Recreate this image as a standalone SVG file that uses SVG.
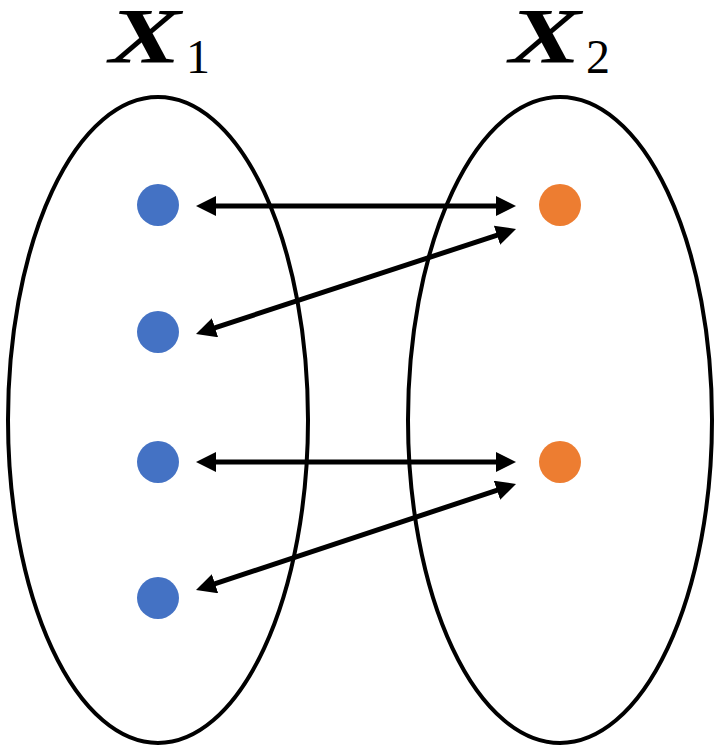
<svg xmlns="http://www.w3.org/2000/svg" width="718" height="746" viewBox="0 0 718 746">
<defs>
<marker id="ah" viewBox="0 0 20 20" refX="10" refY="10" markerWidth="20" markerHeight="20" markerUnits="userSpaceOnUse" orient="auto-start-reverse">
<path d="M0,0 L20,10 L0,20 Z" fill="#000"/>
</marker>
<style>
.set{fill:none;stroke:#000;stroke-width:4}
.b{fill:#4472C4}
.o{fill:#ED7D31}
.c{stroke:#000;stroke-width:5;fill:none;marker-start:url(#ah);marker-end:url(#ah)}
.X{font-family:"Liberation Serif",serif;font-weight:bold;font-style:italic;font-size:79px}
.s{font-family:"Liberation Serif",serif;font-size:48px}
</style>
</defs>
<rect width="718" height="746" fill="#fff"/>
<g id="set1">
<ellipse class="set" cx="158" cy="420" rx="150" ry="323"/>
<text class="X" x="109" y="62" textLength="72" lengthAdjust="spacingAndGlyphs">X</text><text class="s" x="186" y="73">1</text>
</g>
<g id="set2">
<ellipse class="set" cx="560" cy="420" rx="152" ry="323"/>
<text class="X" x="509" y="62" textLength="72" lengthAdjust="spacingAndGlyphs">X</text><text class="s" x="586" y="73">2</text>
</g>
<g id="a1"><circle class="b" cx="158" cy="205" r="21"/></g>
<g id="a2"><circle class="b" cx="158" cy="332" r="21"/></g>
<g id="a3"><circle class="b" cx="158" cy="462" r="21"/></g>
<g id="a4"><circle class="b" cx="158" cy="598" r="21"/></g>
<g id="b1"><circle class="o" cx="560" cy="205" r="21"/></g>
<g id="b2"><circle class="o" cx="560" cy="462" r="21"/></g>
<g id="connectors">
<line class="c" x1="206" y1="206" x2="506" y2="206"/>
<line class="c" x1="205.5" y1="330.9" x2="506.5" y2="232.1"/>
<line class="c" x1="206" y1="462" x2="506" y2="462"/>
<line class="c" x1="205.5" y1="586.9" x2="506.5" y2="487.1"/>
</g>
</svg>
